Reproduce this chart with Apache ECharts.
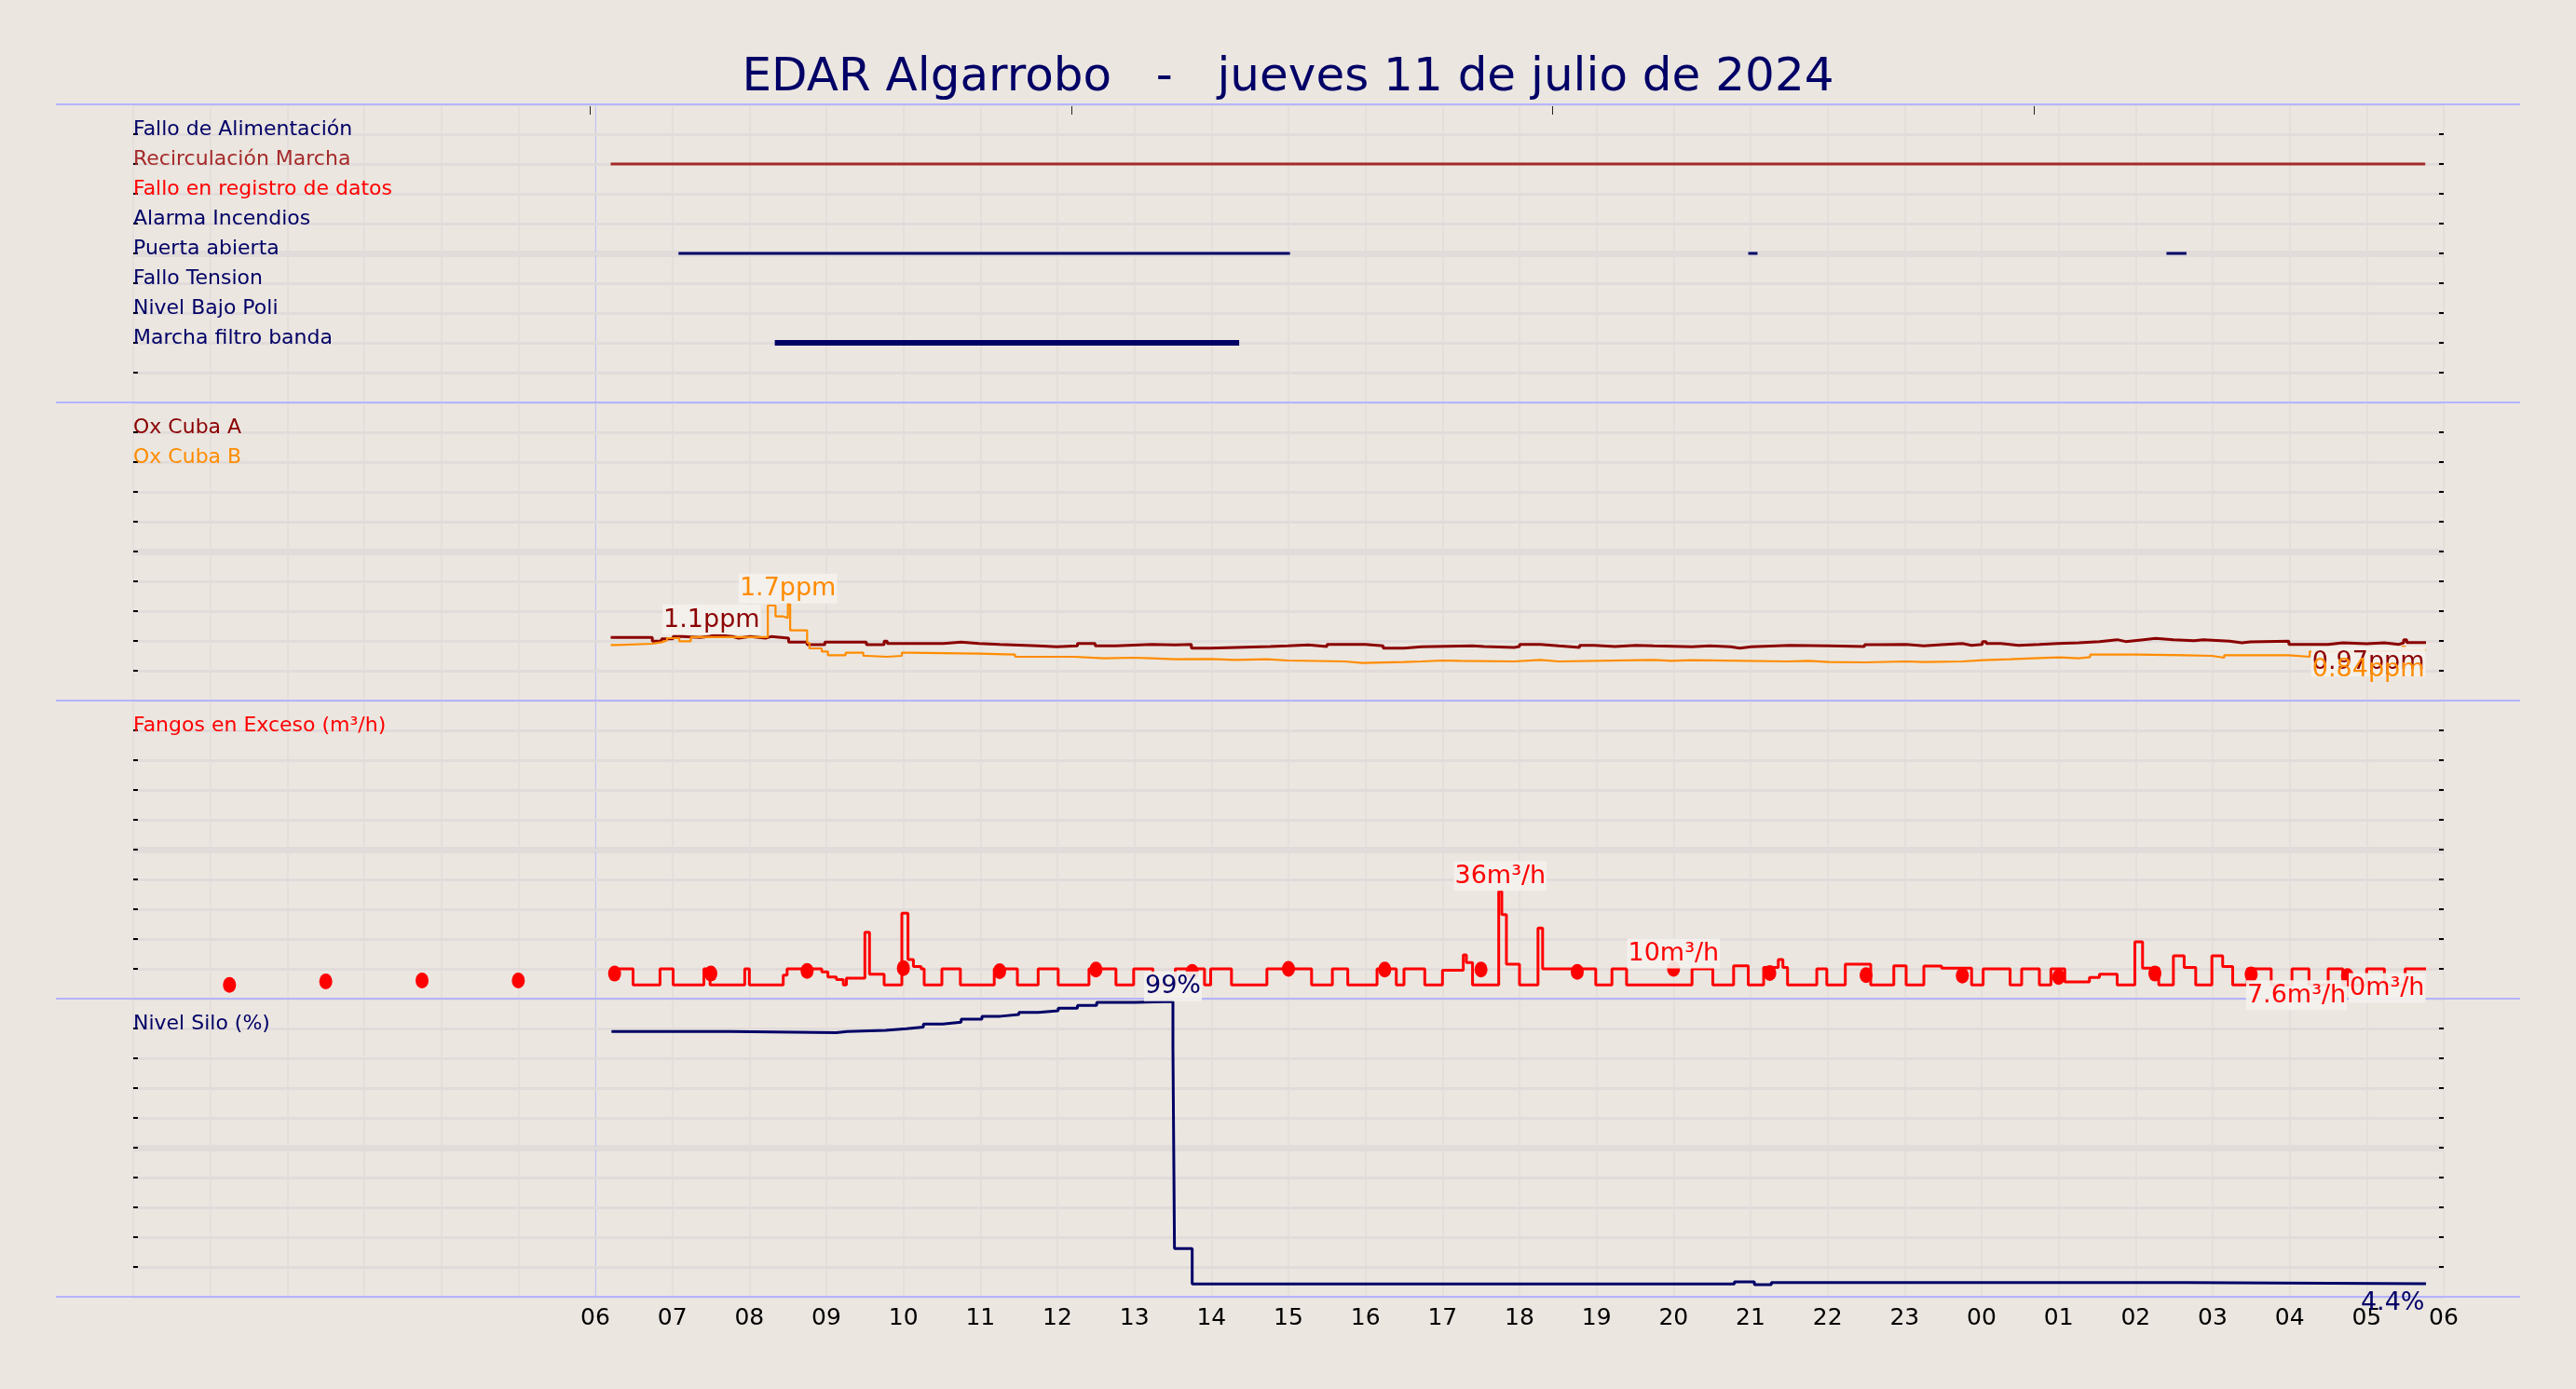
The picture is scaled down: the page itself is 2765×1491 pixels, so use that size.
<!DOCTYPE html>
<html><head><meta charset="utf-8">
<script src="https://cdn.jsdelivr.net/npm/echarts@6/dist/echarts.min.js"></script>
<style>html,body{margin:0;padding:0;background:#ebe6e0}#c{width:2765px;height:1491px}</style>
</head><body><div id="c"></div>
<script>
// ---------------- DATA ----------------
const titleText = 'EDAR Algarrobo   -   jueves 11 de julio de 2024';
// hour offset (0 = 00:00 jueves 11) -> tick label
const hourLabels = ['','','','','','','06','07','08','09','10','11','12','13','14','15','16','17','18','19','20','21','22','23','00','01','02','03','04','05','06'];
const topTicks = [5.93, 12.18, 18.43, 24.68];

const eventRows = ['Fallo de Alimentación','Recirculación Marcha','Fallo en registro de datos','Alarma Incendios','Puerta abierta','Fallo Tension','Nivel Bajo Poli','Marcha filtro banda'];
const recirculacionMarcha = [[6.20, 29.76]];
const puertaAbierta = [[7.08, 15.02], [20.97, 21.09], [26.40, 26.66]];
const marchaFiltroBanda = [[8.33, 14.36]];

const oxNames = ['Ox Cuba A', 'Ox Cuba B'];
const oxCubaA = [[6.20,1.057],[6.74,0.995],[6.86,1.036],[7.01,1.073],[7.13,1.057],[7.36,1.073],[7.47,1.10],[7.55,1.073],[7.78,1.047],[7.86,1.073],[8.01,1.047],[8.21,1.073],[8.28,1.047],[8.51,0.979],[8.75,0.938],[8.98,0.979],[9.52,0.938],[9.75,0.995],[9.79,0.958],[10.52,0.979],[10.75,0.958],[10.98,0.943],[11.25,0.917],[11.75,0.901],[11.99,0.917],[12.26,0.958],[12.49,0.917],[12.76,0.943],[13.22,0.932],[13.53,0.943],[13.74,0.880],[13.99,0.906],[14.76,0.917],[14.99,0.932],[15.26,0.906],[15.50,0.943],[16.00,0.917],[16.23,0.880],[16.50,0.901],[16.73,0.917],[17.39,0.906],[17.54,0.891],[17.93,0.906],[18.00,0.943],[18.27,0.917],[18.51,0.891],[18.78,0.927],[18.97,0.906],[19.24,0.927],[19.51,0.917],[19.74,0.901],[20.24,0.917],[20.47,0.901],[20.74,0.880],[20.86,0.901],[21.01,0.927],[21.51,0.917],[22.02,0.906],[22.48,0.938],[22.67,0.943],[23.02,0.917],[23.25,0.938],[23.48,0.958],[23.75,0.927],[23.87,0.943],[24.01,0.990],[24.06,0.958],[24.25,0.927],[24.48,0.943],[24.75,0.958],[24.99,0.969],[25.26,0.990],[25.53,1.021],[25.76,0.990],[25.87,1.021],[26.10,1.042],[26.26,1.021],[26.49,1.005],[26.76,1.021],[26.88,0.995],[27.22,0.969],[27.38,0.984],[27.49,0.995],[27.99,0.943],[28.50,0.969],[28.69,0.953],[29.00,0.969],[29.23,0.943],[29.42,0.969],[29.48,1.021],[29.52,0.974],[29.77,0.974]];
const oxCubaB = [[6.20,0.932],[6.28,0.953],[6.74,0.979],[6.86,1.010],[6.93,1.047],[7.09,0.995],[7.24,1.063],[8.24,1.594],[8.34,1.411],[8.44,1.385],[8.50,1.62],[8.53,1.177],[8.75,0.969],[8.78,0.875],[8.94,0.823],[9.02,0.760],[9.25,0.802],[9.48,0.750],[9.52,0.734],[9.79,0.750],[9.98,0.802],[10.06,0.786],[10.98,0.771],[11.45,0.734],[12.22,0.708],[12.60,0.719],[12.99,0.708],[13.22,0.693],[13.53,0.698],[13.99,0.682],[14.30,0.693],[14.72,0.672],[14.99,0.656],[15.73,0.630],[15.96,0.646],[16.50,0.656],[16.73,0.672],[17.00,0.667],[17.23,0.656],[17.93,0.682],[18.27,0.656],[18.51,0.682],[19.74,0.667],[19.97,0.677],[20.24,0.656],[21.48,0.667],[21.75,0.646],[22.02,0.641],[22.48,0.656],[23.02,0.646],[23.25,0.656],[23.75,0.677],[24.02,0.693],[24.37,0.714],[24.75,0.724],[25.01,0.708],[25.26,0.729],[25.41,0.771],[26.03,0.760],[26.64,0.750],[26.99,0.719],[27.15,0.760],[27.99,0.734],[28.26,0.823],[29.00,0.833],[29.46,0.906],[29.50,0.849],[29.77,0.849]];

const fangosName = 'Fangos en Exceso (m³/h)';
const fangos = [[6.20,10],[6.49,4.6],[6.84,10],[7.01,4.6],[7.41,10],[7.49,4.6],[7.94,10],[8.00,4.6],[8.44,7.9],[8.49,10],[8.94,9.0],[9.02,7.3],[9.13,6.4],[9.22,4.6],[9.26,6.9],[9.50,22.3],[9.56,8.2],[9.75,4.6],[9.98,28.7],[10.06,13.1],[10.13,10.8],[10.23,10],[10.27,4.6],[10.50,10],[10.74,4.6],[11.18,10],[11.48,4.6],[11.75,10],[12.01,4.6],[12.41,10],[12.76,4.6],[12.99,10],[13.24,4.6],[13.53,10],[13.91,4.6],[13.99,10],[14.26,4.6],[14.72,10],[15.30,4.6],[15.57,10],[15.77,4.6],[16.15,10],[16.40,4.6],[16.50,10],[16.77,4.6],[17.00,9.5],[17.27,14.7],[17.31,12.1],[17.39,4.6],[17.73,36],[17.77,28.2],[17.83,11.6],[18.00,4.6],[18.24,23.7],[18.30,10],[18.99,4.6],[19.20,10],[19.39,4.6],[20.24,10],[20.51,4.6],[20.78,11.0],[20.97,4.6],[21.17,10.5],[21.36,13.1],[21.42,10.5],[21.48,4.6],[21.86,10],[21.99,4.6],[22.23,11.6],[22.56,4.6],[22.86,11.0],[23.02,4.6],[23.25,10.9],[23.48,10.2],[23.87,4.6],[24.02,10],[24.37,4.6],[24.52,10],[24.75,4.6],[24.90,10],[25.08,5.6],[25.40,7.1],[25.53,8.2],[25.76,4.6],[25.99,19.1],[26.09,10.2],[26.30,4.6],[26.49,14.4],[26.63,10.5],[26.78,4.6],[26.99,14.4],[27.13,10.8],[27.26,4.6],[27.45,10],[27.76,4.6],[28.03,10],[28.25,4.6],[28.50,10],[28.69,4.6],[29.00,10],[29.23,4.6],[29.50,10],[29.77,10]];
const fangosDots = [[1.25,4.6],[2.5,5.8],[3.75,6.1],[5.0,6.1],[6.25,8.4],[7.5,8.4],[8.75,9.3],[10.0,10.2],[11.25,9.2],[12.5,9.8],[13.75,9.0],[15.0,10],[16.25,9.8],[17.5,9.8],[18.75,9.0],[20.0,10],[21.25,8.6],[22.5,7.9],[23.75,7.7],[25.0,7.3],[26.25,8.4],[27.5,8.1],[28.75,7.6]];

const siloName = 'Nivel Silo (%)';
const silo = [[6.21,89.0],[7.75,88.6],[9.13,89.0],[9.27,89.4],[9.77,89.9],[10.04,90.5],[10.26,91.5],[10.51,92.1],[10.75,93.1],[11.02,94.1],[11.26,94.7],[11.50,95.4],[11.75,95.9],[12.01,96.8],[12.26,97.7],[12.51,98.75],[13.01,99.1],[13.50,83.4],[13.52,16.2],[13.75,4.3],[20.79,5.0],[21.05,4.1],[21.27,4.8],[26.64,4.4],[29.77,4.4]];

// annotations: [x, y, text]
const oxAMax = [[7.51, 1.10, '1.1ppm']];
const oxBMax = [[8.50, 1.62, '1.7ppm']];
const oxALast = [[29.77, 0.974, '0.97ppm']];
const oxBLast = [[29.77, 0.849, '0.84ppm']];
const fangosTop = [[17.75, 36, '36m³/h'], [20.0, 10, '10m³/h']];
const fangosLast = [[28.75, 7.6, '7.6m³/h'], [29.77, 10, '0m³/h']];
const siloMax = [[13.5, 99, '99%']];
const siloLast = [[29.77, 4.4, '4.4%']];

// ---------------- STYLE / LAYOUT ----------------
const FONT = 'DejaVu Sans';
const BG = '#ebe6e0', GRID_H = '#e1dcda', GRID_V = '#e4dfdb';
const NAVY = '#000066', BROWN = '#a52a2a', RED = '#ff0000', DARKRED = '#8b0000', ORANGE = '#ff8c00';
const SEP = '#b4b4ff', LINE06 = '#c4c4fb';
const L = 143, R = 2623, TOP = 112, PH = 320;
const rowColors = [NAVY, BROWN, RED, NAVY, NAVY, NAVY, NAVY, NAVY];
const panels = [
  {min: 0, max: 10, interval: 1, inverse: true, mid: 5},
  {min: 0, max: 5, interval: 0.5, mid: 2.5},
  {min: 0, max: 100, interval: 10, mid: 50},
  {min: 0, max: 100, interval: 10, mid: 50}
];
const panelLabel = [
  v => { const i = Math.round(v) - 1; return (i >= 0 && i < eventRows.length) ? eventRows[i] : ''; },
  v => Math.abs(v - 4.5) < 1e-6 ? oxNames[0] : (Math.abs(v - 4) < 1e-6 ? oxNames[1] : ''),
  v => Math.abs(v - 90) < 1e-6 ? fangosName : '',
  v => Math.abs(v - 90) < 1e-6 ? siloName : ''
];
const panelColor = [
  v => rowColors[Math.round(v) - 1] || NAVY,
  v => Math.abs(v - 4.5) < 1e-6 ? DARKRED : ORANGE,
  () => RED,
  () => NAVY
];

const grids = panels.map((p, i) => ({left: L, width: R - L, top: TOP + PH * i, height: PH, containLabel: false}));

const xAxes = panels.map((p, i) => ({
  type: 'value', gridIndex: i, min: 0, max: 30, interval: 1,
  axisLine: {show: false, onZero: false}, axisTick: {show: false},
  splitLine: {show: true, lineStyle: {color: GRID_V, width: 2}},
  axisLabel: i === 3 ? {show: true, fontSize: 25, fontFamily: FONT, color: '#000', margin: 11,
    formatter: v => hourLabels[Math.round(v)] || ''} : {show: false}
}));
xAxes.push({
  type: 'value', gridIndex: 0, position: 'top', min: 0, max: 30,
  axisLine: {show: false, onZero: false}, splitLine: {show: false}, axisLabel: {show: false},
  axisTick: {show: true, inside: true, length: 11, customValues: topTicks, lineStyle: {color: '#222', width: 1}}
});

const yAxes = [];
panels.forEach((p, i) => {
  yAxes.push({
    type: 'value', gridIndex: i, position: 'left', z: 1.5, min: p.min, max: p.max, interval: p.interval, inverse: !!p.inverse,
    axisLine: {show: false, onZero: false},
    axisTick: {show: true, inside: true, length: 5, lineStyle: {color: '#000', width: 2}},
    splitLine: {show: true, lineStyle: {color: GRID_H, width: 3}},
    axisLabel: {show: true, inside: true, margin: 0, verticalAlign: 'bottom', align: 'left', lineHeight: 10,
      fontSize: 22, fontFamily: FONT, color: panelColor[i], formatter: panelLabel[i]}
  });
});
panels.forEach((p, i) => {
  yAxes.push({
    type: 'value', gridIndex: i, position: 'right', z: 1.5, min: p.min, max: p.max, interval: p.interval, inverse: !!p.inverse,
    axisLine: {show: false, onZero: false}, splitLine: {show: false}, axisLabel: {show: false},
    axisTick: {show: true, inside: true, length: 5, lineStyle: {color: '#000', width: 2}}
  });
});

const series = [];
// background decorations per panel: thick middle band + 06 line
panels.forEach((p, i) => {
  series.push({
    type: 'line', xAxisIndex: i, yAxisIndex: i, data: [[-5, p.min]], showSymbol: false,
    lineStyle: {opacity: 0}, silent: true, z: 1,
    markLine: {silent: true, z: 1, symbol: ['none', 'none'], label: {show: false}, animation: false,
      data: [
        {yAxis: p.mid, lineStyle: {color: GRID_H, width: 7, type: 'solid'}},
        {xAxis: 6, lineStyle: {color: LINE06, width: 1, type: 'solid'}}
      ]}
  });
});

function eventSeries(intervals, row, color, width) {
  intervals.forEach(iv => series.push({
    type: 'line', xAxisIndex: 0, yAxisIndex: 0, showSymbol: false, symbol: 'none', z: 3,
    data: [[iv[0], row], [iv[1], row]],
    lineStyle: {color, width, cap: 'butt'}
  }));
}
eventSeries(recirculacionMarcha, 2, BROWN, 3);
eventSeries(puertaAbierta, 5, NAVY, 3);
eventSeries(marchaFiltroBanda, 8, NAVY, 6);

function stepSeries(name, data, gi, color, width) {
  series.push({name, type: 'line', step: 'end', xAxisIndex: gi, yAxisIndex: gi, data, z: 3,
    showSymbol: false, symbol: 'none', lineStyle: {color, width}});
}
stepSeries(oxNames[0], oxCubaA, 1, DARKRED, 3);
stepSeries(oxNames[1], oxCubaB, 1, ORANGE, 2.2);
stepSeries(fangosName, fangos, 2, RED, 3);
series.push({type: 'scatter', xAxisIndex: 2, yAxisIndex: 2, data: fangosDots, z: 3,
  symbol: 'circle', symbolSize: [14, 17], itemStyle: {color: RED, opacity: 1}});
stepSeries(siloName, silo, 3, NAVY, 3);

const LBG = 'rgba(244,241,237,0.92)';
const NOBG = 'rgba(0,0,0,0)';
function labelSeries(arr, gi, color, mode, bg) {
  series.push({
    type: 'scatter', xAxisIndex: gi, yAxisIndex: gi, symbolSize: 1, z: 6, silent: true,
    itemStyle: {color: 'rgba(0,0,0,0)', opacity: 1},
    data: arr.map(a => ({value: [a[0], a[1]], name: a[2]})),
    label: mode === 'top'
      ? {show: true, position: 'top', distance: 0, formatter: '{b}', color, fontSize: 27, fontFamily: FONT,
         backgroundColor: bg, padding: [3, 1, 2, 1]}
      : {show: true, position: [0, 5], align: 'right', verticalAlign: 'top', formatter: '{b}', color,
         fontSize: 27, fontFamily: FONT, backgroundColor: bg, padding: [3, 1, 2, 1]}
  });
}
labelSeries(oxAMax, 1, DARKRED, 'top', LBG);
labelSeries(oxBMax, 1, ORANGE, 'top', LBG);
labelSeries(oxALast, 1, DARKRED, 'bottom', LBG);
labelSeries(oxBLast, 1, ORANGE, 'bottom', NOBG);
labelSeries(fangosTop, 2, RED, 'top', LBG);
labelSeries(fangosLast, 2, RED, 'bottom', LBG);
labelSeries(siloMax, 3, NAVY, 'top', LBG);
labelSeries(siloLast, 3, NAVY, 'bottom', NOBG);

const separators = [0, 1, 2, 3, 4].map(i => ({
  type: 'line', z: 2, silent: true,
  shape: {x1: 60, y1: TOP + PH * i, x2: 2705, y2: TOP + PH * i},
  style: {stroke: SEP, lineWidth: 2}
}));

const chart = echarts.init(document.getElementById('c'), null, {renderer: 'canvas'});
chart.setOption({
  backgroundColor: BG,
  animation: false,
  textStyle: {fontFamily: FONT},
  title: {text: titleText, left: 'center', top: 54,
    textStyle: {fontSize: 50, fontWeight: 'normal', color: NAVY, fontFamily: FONT}},
  grid: grids,
  xAxis: xAxes,
  yAxis: yAxes,
  graphic: {z: 2, elements: separators},
  series
});
</script></body></html>
